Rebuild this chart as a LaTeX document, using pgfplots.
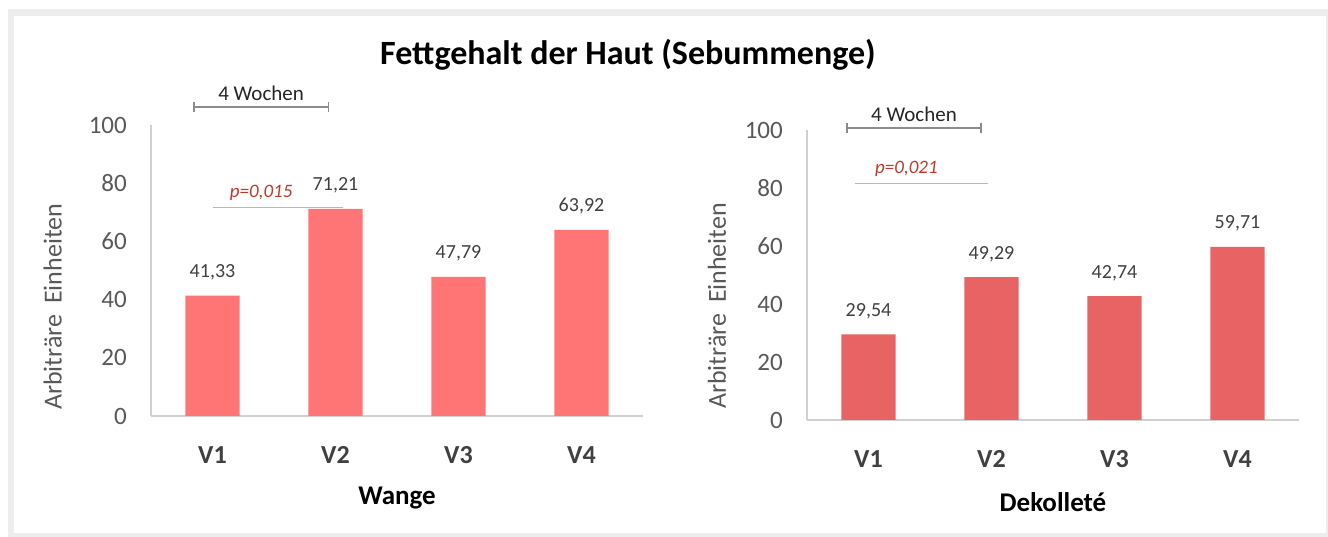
\documentclass[border=0pt]{standalone}
\usepackage{pgfplots}
\pgfplotsset{compat=1.18}
\usepackage{fontspec}
\setmainfont{Carlito}
\definecolor{leftbar}{HTML}{FF7575}
\definecolor{rightbar}{HTML}{E86464}
\definecolor{axgray}{HTML}{D0D0D0}
\definecolor{tickgray}{HTML}{595959}
\definecolor{vgray}{HTML}{404040}
\definecolor{framegray}{HTML}{EDEDED}
\definecolor{pred}{HTML}{C0392B}
\definecolor{plight}{HTML}{EFA39B}
\definecolor{brgray}{HTML}{8C8C8C}
\pgfplotsset{
  panel/.style={
    scale only axis, width=492pt,
    xmin=0.5, xmax=4.5, ymin=0, ymax=100,
    axis x line*=bottom, axis y line*=left,
    axis line style={axgray, line width=1.2pt, -},
    ytick={0,20,...,100}, xtick={1,2,3,4},
    xticklabels={V1,V2,V3,V4},
    major tick length=0pt,
    /pgf/number format/assume math mode=true,
    yticklabel style={font=\fontsize{25}{25}\selectfont, text=tickgray, anchor=east, inner sep=0pt, xshift=-24pt},
    xticklabel style={font=\fontsize{26}{26}\selectfont\bfseries, text=vgray, anchor=center, inner sep=0pt, yshift=-39pt},
    xlabel style={font=\fontsize{27}{27}\selectfont\bfseries, at={(axis description cs:0.5,0)}, anchor=center, yshift=-82pt},
    ybar, bar width=0.44, bar shift=0pt,
    point meta=explicit symbolic,
    nodes near coords,
    nodes near coords style={font=\fontsize{20}{20}\selectfont, text=vgray, anchor=base, inner sep=0pt, yshift=18pt},
    clip=false,
  }
}
\begin{document}
\begin{tikzpicture}[x=1pt,y=1pt]
\fill[white] (0,0) rectangle (1328,537);
\fill[framegray] (8,0) rectangle (1328,528);
\fill[white] (14,4) rectangle (1326,521);
\path[use as bounding box] (0,0) rectangle (1328,537);
\node[font=\fontsize{34}{34}\selectfont\bfseries, anchor=center] at (628,482) {Fettgehalt der Haut (Sebummenge)};

% left panel
\begin{axis}[panel, height=291pt, at={(151pt,121pt)}, anchor=south west,
  xlabel={Wange},
  ylabel={Arbiträre\hspace{5pt} Einheiten},
  every axis y label/.style={at={(axis description cs:-0.2,0.375)}, rotate=90, anchor=center, font=\fontsize{26}{26}\selectfont, text=tickgray},
]
\addplot[fill=leftbar, draw=none] coordinates {(1,41.33) [41,33] (2,71.21) [71,21] (3,47.79) [47,79] (4,63.92) [63,92]};
\draw[brgray, line width=1.2pt] (axis cs:0.85,106.2) -- (axis cs:1.94,106.2);
\draw[brgray, line width=1.2pt] ([yshift=-5pt]axis cs:0.85,106.2) -- ([yshift=5pt]axis cs:0.85,106.2);
\draw[brgray, line width=1.2pt] ([yshift=-5pt]axis cs:1.94,106.2) -- ([yshift=5pt]axis cs:1.94,106.2);
\node[anchor=base, font=\fontsize{21}{21}\selectfont, text=black!85, yshift=6pt] at (axis cs:1.395,106.2) {4 Wochen};
\draw[plight, line width=1pt] (axis cs:1.004,71.8) -- (axis cs:2.06,71.8);
\node[anchor=base west, inner sep=0pt, font=\fontsize{19}{19}\selectfont\itshape, text=pred, yshift=10pt] at (axis cs:1.14,71.8) {p=0,015};
\end{axis}

% right panel
\begin{axis}[panel, height=290pt, at={(807pt,117pt)}, anchor=south west,
  xlabel={Dekolleté},
  ylabel={Arbiträre\hspace{5pt} Einheiten},
  every axis y label/.style={at={(axis description cs:-0.183,0.393)}, rotate=90, anchor=center, font=\fontsize{26}{26}\selectfont, text=tickgray},
]
\addplot[fill=rightbar, draw=none] coordinates {(1,29.54) [29,54] (2,49.29) [49,29] (3,42.74) [42,74] (4,59.71) [59,71]};
\draw[brgray, line width=1.2pt] (axis cs:0.825,100.7) -- (axis cs:1.915,100.7);
\draw[brgray, line width=1.2pt] ([yshift=-5pt]axis cs:0.825,100.7) -- ([yshift=5pt]axis cs:0.825,100.7);
\draw[brgray, line width=1.2pt] ([yshift=-5pt]axis cs:1.915,100.7) -- ([yshift=5pt]axis cs:1.915,100.7);
\node[anchor=base, font=\fontsize{21}{21}\selectfont, text=black!85, yshift=6pt] at (axis cs:1.37,100.7) {4 Wochen};
\draw[plight, line width=1pt] (axis cs:0.89,81.7) -- (axis cs:1.97,81.7);
\node[anchor=base west, inner sep=0pt, font=\fontsize{19}{19}\selectfont\itshape, text=pred, yshift=10pt] at (axis cs:1.053,81.7) {p=0,021};
\end{axis}
\end{tikzpicture}
\end{document}
